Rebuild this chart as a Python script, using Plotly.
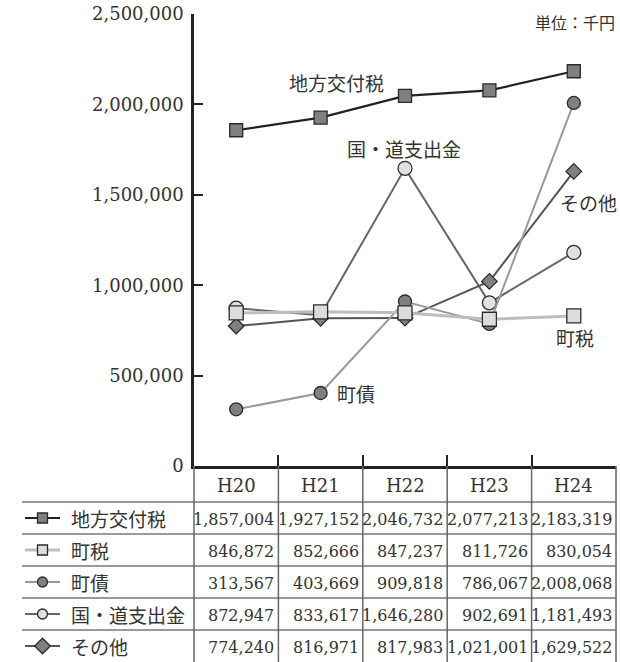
import plotly.graph_objects as go

# ---------------- data ----------------
years = ["H20", "H21", "H22", "H23", "H24"]
series_names = ["地方交付税", "町税", "町債", "国・道支出金", "その他"]
chiho_kofuzei = [1857004, 1927152, 2046732, 2077213, 2183319]
chozei = [846872, 852666, 847237, 811726, 830054]
chosai = [313567, 403669, 909818, 786067, 2008068]
kokudo_shishutsu = [872947, 833617, 1646280, 902691, 1181493]
sonota = [774240, 816971, 817983, 1021001, 1629522]
y_tick_vals = [0, 500000, 1000000, 1500000, 2000000, 2500000]
y_tick_text = ["0", "500,000", "1,000,000", "1,500,000", "2,000,000", "2,500,000"]
unit_label = "単位：千円"

values = [chiho_kofuzei, chozei, chosai, kokudo_shishutsu, sonota]

# ---------------- styles ----------------
W, H = 620, 662
NUM_FONT = "DejaVu Serif, Noto Sans CJK JP"
JP_FONT = "Noto Sans CJK JP, DejaVu Serif"
TXT = "#333333"

styles = {
    "地方交付税": dict(line="#222222", lw=2.2, symbol="square", size=13, fill="#808080", lsize=10),
    "町税": dict(line="#bdbdbd", lw=3, symbol="square", size=14, fill="#dcdcdc", lsize=10),
    "町債": dict(line="#999999", lw=2, symbol="circle", size=13, fill="#808080", lsize=10),
    "国・道支出金": dict(line="#666666", lw=2, symbol="circle", size=14, fill="#e0e0e0", lsize=10),
    "その他": dict(line="#555555", lw=2, symbol="diamond", size=12, fill="#808080", lsize=12),
}
draw_order = ["国・道支出金", "その他", "町債", "町税", "地方交付税"]

# pixel layout
x_left, x_right = 194, 616
y_top, y_zero = 14, 466
header_bottom = 502
row_h = 32

def px(x):
    return x / W

def py(y):
    return 1 - y / H

fig = go.Figure()

for name in draw_order:
    st = styles[name]
    vals = values[series_names.index(name)]
    fig.add_trace(go.Scatter(
        x=years, y=vals, mode="lines+markers", name=name,
        line=dict(color=st["line"], width=st["lw"]),
        marker=dict(symbol=st["symbol"], size=st["size"], color=st["fill"],
                    line=dict(color="#2a2a2a", width=1.3)),
        showlegend=False, hoverinfo="skip",
        xaxis="x", yaxis="y",
    ))

# ---------------- table (pixel axes) ----------------
col_w = (x_right - x_left) / len(years)
shapes = []
annotations = []

for i in range(len(series_names)):
    yl = header_bottom + i * row_h
    shapes.append(dict(type="line", xref="x2", yref="y2", x0=22, x1=x_right,
                       y0=yl, y1=yl, line=dict(color="#777777", width=1.5)))
for j in range(len(years) + 1):
    xl = x_left + j * col_w
    shapes.append(dict(type="line", xref="x2", yref="y2", x0=xl, x1=xl,
                       y0=y_zero, y1=H, line=dict(color="#666666", width=1.5)))

for j, yr in enumerate(years):
    annotations.append(dict(xref="x2", yref="y2", x=x_left + (j + 0.5) * col_w,
                            y=(y_zero + header_bottom) / 2 + 1, text=yr, showarrow=False,
                            font=dict(family=NUM_FONT, size=18, color=TXT),
                            xanchor="center", yanchor="middle"))

for i, name in enumerate(series_names):
    yc = header_bottom + (i + 0.5) * row_h
    st = styles[name]
    annotations.append(dict(xref="x2", yref="y2", x=69, y=yc, text=name, showarrow=False,
                            font=dict(family=JP_FONT, size=19, color=TXT),
                            xanchor="left", yanchor="middle"))
    fig.add_trace(go.Scatter(
        x=[25, 42.5, 60], y=[yc, yc, yc], mode="lines",
        line=dict(color=st["line"], width=st["lw"]),
        showlegend=False, hoverinfo="skip", xaxis="x2", yaxis="y2"))
    fig.add_trace(go.Scatter(
        x=[42.5], y=[yc], mode="markers",
        marker=dict(symbol=st["symbol"], size=st["lsize"], color=st["fill"],
                    line=dict(color="#2a2a2a", width=1.3)),
        showlegend=False, hoverinfo="skip", xaxis="x2", yaxis="y2"))
    for j, v in enumerate(values[i]):
        annotations.append(dict(xref="x2", yref="y2", x=x_left + (j + 1) * col_w - 2,
                                y=yc + 1, text=f"{v:,}", showarrow=False,
                                font=dict(family=NUM_FONT, size=16, color=TXT),
                                xanchor="right", yanchor="middle"))

plot_labels = [
    ("地方交付税", 336, 82),
    ("国・道支出金", 404, 148),
    ("その他", 588, 202),
    ("町税", 575, 337),
    ("町債", 356, 393),
]
for text, xx, yy in plot_labels:
    annotations.append(dict(xref="x2", yref="y2", x=xx, y=yy, text=text, showarrow=False,
                            font=dict(family=JP_FONT, size=19, color=TXT),
                            xanchor="center", yanchor="middle"))
annotations.append(dict(xref="x2", yref="y2", x=617, y=22, text=unit_label, showarrow=False,
                        font=dict(family=JP_FONT, size=16, color=TXT),
                        xanchor="right", yanchor="middle"))

fig.update_layout(
    width=W, height=H,
    margin=dict(l=0, r=0, t=0, b=0, autoexpand=False),
    paper_bgcolor="white", plot_bgcolor="rgba(0,0,0,0)",
    showlegend=False,
    xaxis=dict(type="category", domain=[px(x_left), px(x_right)],
               range=[-0.5, len(years) - 0.5], tickson="boundaries",
               ticks="inside", ticklen=11, tickwidth=2, tickcolor="#222222",
               showticklabels=False, showline=True, linewidth=2.5, linecolor="#222222",
               showgrid=False, zeroline=False, fixedrange=True, automargin=False,
               anchor="y"),
    yaxis=dict(domain=[py(y_zero), py(y_top)], range=[0, 2500000],
               tickmode="array", tickvals=y_tick_vals, ticktext=y_tick_text,
               ticks="inside", ticklen=9, tickwidth=2, tickcolor="#222222",
               ticklabelstandoff=4,
               tickfont=dict(family=NUM_FONT, size=18, color=TXT),
               showline=True, linewidth=2.5, linecolor="#222222",
               showgrid=False, zeroline=False, fixedrange=True, automargin=False,
               anchor="x"),
    xaxis2=dict(domain=[0, 1], range=[0, W], visible=False, fixedrange=True,
                anchor="y2", automargin=False),
    yaxis2=dict(domain=[0, 1], range=[H, 0], visible=False, fixedrange=True,
                anchor="x2", automargin=False),
    shapes=shapes,
    annotations=annotations,
)

fig.write_html("out.html", config={"displayModeBar": False},
               post_script="document.body.style.margin='0';")
